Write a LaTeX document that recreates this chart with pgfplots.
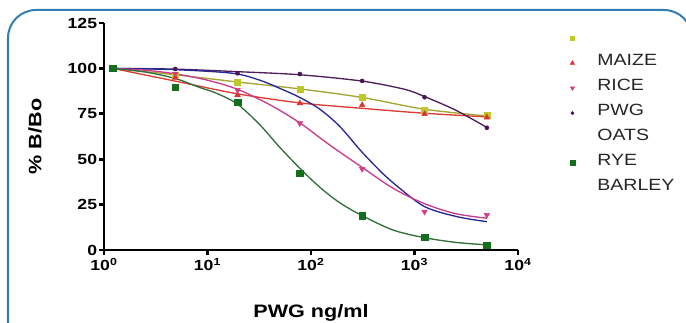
\documentclass[border=0pt]{standalone}
\usepackage{pgfplots}
\pgfplotsset{compat=1.18}
\usepackage{fontspec}
\setmainfont{Liberation Sans}[FakeStretch=1.2]
\definecolor{frameblue}{RGB}{50,125,180}
\definecolor{maizeM}{RGB}{190,200,40}
\definecolor{maizeL}{RGB}{165,165,50}
\definecolor{riceM}{RGB}{220,50,50}
\definecolor{riceL}{RGB}{220,60,50}
\definecolor{pwgM}{RGB}{210,60,130}
\definecolor{pwgL}{RGB}{200,60,140}
\definecolor{oatsM}{RGB}{70,20,80}
\definecolor{oatsL}{RGB}{80,30,90}
\definecolor{ryeL}{RGB}{40,40,150}
\definecolor{barleyM}{RGB}{20,110,30}
\definecolor{barleyL}{RGB}{50,110,60}
\begin{document}
\begin{tikzpicture}[x=1pt,y=1pt]
\useasboundingbox (-78,-54) rectangle (436.5,187.5);
\begin{scope}
\clip (-78,-54) rectangle (436.5,187.5);
\draw[color=frameblue, line width=1.5pt, rounded corners=21pt] (-72,-90) rectangle (441,180);
\end{scope}
\begin{axis}[
  at={(0,0)}, anchor=south west,
  width=310.5pt, height=170.25pt, scale only axis,
  xmode=log, xmin=1, xmax=10000, ymin=0, ymax=125,
  axis x line*=bottom, axis y line*=left,
  axis line style={line width=2.2pt, black},
  xtick={1,10,100,1000,10000},
  xticklabels={10\textsuperscript{0},10\textsuperscript{1},10\textsuperscript{2},10\textsuperscript{3},10\textsuperscript{4}},
  xminorticks=false,
  ytick={0,25,50,75,100,125},
  /pgf/number format/assume math mode=true,
  tick align=outside, major tick length=4pt,
  tick style={line width=2pt, black},
  ticklabel style={font=\bfseries\fontsize{11}{11}\selectfont},
  yticklabel style={inner xsep=1pt},
  xticklabel style={inner ysep=2pt},
  clip=false,
  xlabel={\bfseries PWG ng/ml},
  ylabel={\bfseries \% B/Bo},
  label style={font=\fontsize{13.5}{13.5}\selectfont},
  xlabel style={at={(axis description cs:0.5,-0.2775)}, anchor=center},
  ylabel style={at={(axis description cs:-0.1667,0.5)}, anchor=center, rotate=0},
  legend style={at={(axis description cs:1.098,1.0103)}, anchor=north west,
    draw=none, fill=none, font=\fontsize{12.2}{12.2}\selectfont,
    row sep=0pt, text=black!85,
    nodes={inner sep=0pt, text height=13pt, text depth=5.75pt}},
  legend cell align=left,
  legend image code/.code={\draw[#1] plot coordinates {(7pt,-1.5pt)}; \path (0pt,0pt) (25.5pt,0pt);},
]
% legend (as in the reference, markers offset from the names)
\addlegendimage{only marks, mark=square*, mark size=1.6pt, color=maizeM}
\addlegendentry{}
\addlegendimage{only marks, mark=triangle*, mark size=1.8pt, color=riceM}
\addlegendentry{MAIZE}
\addlegendimage{only marks, mark=triangle*, mark options={rotate=180}, mark size=1.8pt, color=pwgM}
\addlegendentry{RICE}
\addlegendimage{only marks, mark=*, mark size=1.2pt, color=oatsM}
\addlegendentry{PWG}
\addlegendimage{empty legend}
\addlegendentry{OATS}
\addlegendimage{only marks, mark=square*, mark size=2pt, color=barleyM}
\addlegendentry{RYE}
\addlegendimage{empty legend}
\addlegendentry{BARLEY}

% fitted curves
\addplot[forget plot, smooth, color=maizeL, line width=1pt] coordinates {
 (1.22,100) (4.88,96.5) (19.5,92.5) (78,88.7) (312,84) (1250,77.5) (5000,73.8)};
\addplot[forget plot, smooth, color=riceL, line width=1pt] coordinates {
 (1.22,100) (4.88,93) (19.5,86) (78,81) (312,78) (1250,75.3) (5000,73.3)};
\addplot[forget plot, smooth, color=oatsL, line width=1pt] coordinates {
 (1.22,100) (4.88,99.6) (19.5,98.2) (78,96.5) (312,93) (800,88.5) (1250,84.5) (2500,77) (5000,67.5)};
\addplot[forget plot, smooth, color=ryeL, line width=1pt] coordinates {
 (1.22,100) (4.86,99.3) (17.6,97.3) (32,93.5) (50,89) (78,84) (122,77.5) (190,68) (310,54) (495,42) (620,37) (1240,24) (2600,18.3) (5000,15.6)};
\addplot[forget plot, smooth, color=pwgL, line width=1pt] coordinates {
 (1.22,100) (2.5,99) (4.88,97) (10,93.5) (19.5,88.5) (40,80) (78,70) (150,58) (312,45.5) (620,34) (1250,25.5) (2500,20) (5000,17.5)};
\addplot[forget plot, smooth, color=barleyL, line width=1pt] coordinates {
 (1.22,100) (2.5,98) (4.86,94.5) (8.4,89.5) (12,86.5) (19.3,80.5) (32,69) (50,56.5) (78,45) (122,34.5) (190,26) (310,19) (620,11) (1240,6.8) (2500,4.2) (5000,2.8)};

% data points
\addplot[forget plot, only marks, mark=square*, mark size=2.2pt, color=maizeM] coordinates {
 (1.22,100) (4.88,96.5) (19.5,92.3) (78,88.7) (312,84.1) (1250,77.1) (5000,74.0)};
\addplot[forget plot, only marks, mark=triangle*, mark size=2.4pt, color=riceM] coordinates {
 (1.22,100) (4.88,94.9) (19.5,85.4) (78,80.8) (312,79.8) (1250,74.9) (5000,73.0)};
\addplot[forget plot, only marks, mark=triangle*, mark options={rotate=180}, mark size=2.4pt, color=pwgM] coordinates {
 (1.22,100) (4.88,97) (19.5,88.1) (78,69.8) (312,44.6) (1250,21.1) (5000,19.3)};
\addplot[forget plot, only marks, mark=*, mark size=1.5pt, color=oatsM] coordinates {
 (1.22,100) (4.88,99.7) (19.5,97.3) (78,96.9) (312,93.1) (1250,84.1) (5000,67.3)};
\addplot[forget plot, only marks, mark=square*, mark size=2.5pt, color=barleyM] coordinates {
 (1.22,100) (4.88,89.6) (19.5,81.3) (78,42.2) (312,18.7) (1250,7.0) (5000,2.6)};
\end{axis}
\end{tikzpicture}
\end{document}
